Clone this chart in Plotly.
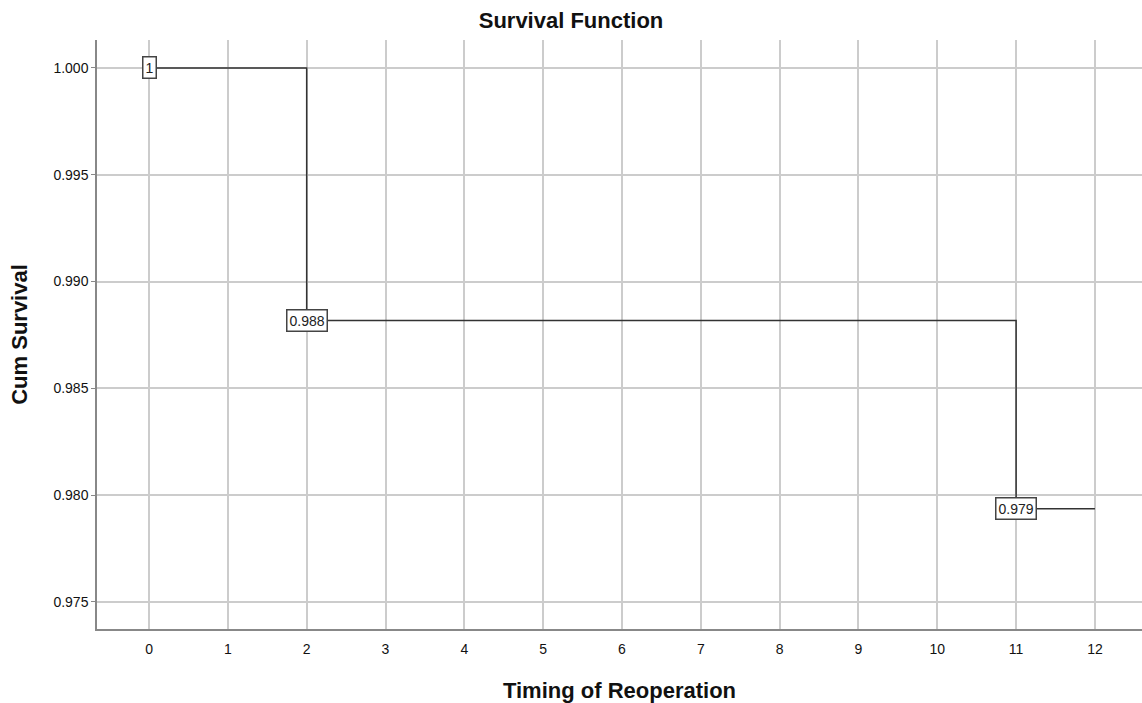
import plotly.graph_objects as go

# Data
time_points = [0, 2, 11, 12]
survival = [1.0, 0.98818, 0.97936, 0.97936]
label_x = [0, 2, 11]
label_y = [1.0, 0.98818, 0.97936]
label_text = ["1", "0.988", "0.979"]
x_ticks = list(range(0, 13))
y_ticks = [0.975, 0.980, 0.985, 0.990, 0.995, 1.000]

fig = go.Figure()
fig.add_trace(go.Scatter(
    x=time_points, y=survival, mode="lines",
    line=dict(shape="hv", color="#333333", width=1.5),
    showlegend=False, hoverinfo="skip",
))

for xv, yv, t in zip(label_x, label_y, label_text):
    fig.add_annotation(
        x=xv, y=yv, text=t, showarrow=False,
        font=dict(family="Liberation Sans, Arial", size=14, color="#222222"),
        bgcolor="white", bordercolor="#444444", borderwidth=1.5, borderpad=2,
        xanchor="center", yanchor="middle",
    )

fig.update_layout(
    width=1142, height=703,
    paper_bgcolor="white", plot_bgcolor="white",
    margin=dict(l=97, r=0, t=40, b=74),
    font=dict(family="Liberation Sans, Arial", color="#111111"),
    title=dict(text="<b>Survival Function</b>", x=0.5, xanchor="center",
               y=1 - 20 / 703, yanchor="middle",
               font=dict(size=22, family="Liberation Sans, Arial", color="#111111")),
    xaxis=dict(
        range=[-0.66, 12.597], tickvals=x_ticks, ticktext=[str(v) for v in x_ticks],
        showgrid=True, gridcolor="#cccccc", gridwidth=1.5,
        showline=True, linecolor="#888888", linewidth=1.5,
        ticks="outside", ticklen=6, tickcolor="rgba(0,0,0,0)", zeroline=False,
        tickfont=dict(size=14, color="#111111"),
        title=dict(text="<b>Timing of Reoperation</b>", font=dict(size=22, color="#111111"), standoff=27),
    ),
    yaxis=dict(
        range=[0.97373, 1.00131], tickvals=y_ticks,
        ticktext=[f"{v:.3f}" for v in y_ticks],
        showgrid=True, gridcolor="#cccccc", gridwidth=1.5,
        showline=True, linecolor="#888888", linewidth=1.5,
        ticks="outside", ticklen=4, tickcolor="#888888", zeroline=False,
        tickfont=dict(size=14, color="#111111"),
        title=dict(text="<b>Cum Survival</b>", font=dict(size=22, color="#111111"), standoff=20),
    ),
)

fig.write_html("out.html")
